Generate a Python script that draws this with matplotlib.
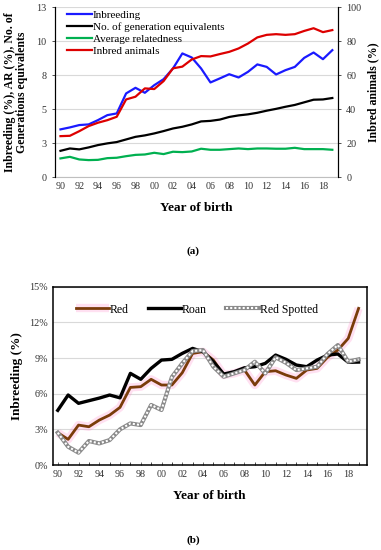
import matplotlib
matplotlib.use("Agg")
import matplotlib.pyplot as plt
from matplotlib.ticker import FixedLocator, MultipleLocator, PercentFormatter
from matplotlib.legend_handler import HandlerTuple

plt.rcParams['font.family'] = ['Liberation Serif', 'DejaVu Serif']

# данные
years = list(range(1990, 2020))
year_ticks = list(range(1990, 2019, 2))
year_labels = ["%02d" % (y % 100) for y in year_ticks]

# (a)
inbreeding = [3.65, 3.80, 3.98, 4.03, 4.36, 4.74, 4.87, 6.40, 6.83, 6.45,
              7.03, 7.49, 8.31, 9.46, 9.15, 8.31, 7.24, 7.55, 7.87, 7.62,
              8.05, 8.62, 8.43, 7.85, 8.18, 8.43, 9.12, 9.53, 9.02, 9.71]
gen_equiv = [2.01, 2.19, 2.12, 2.27, 2.45, 2.58, 2.68, 2.88, 3.08, 3.19,
             3.34, 3.52, 3.72, 3.85, 4.03, 4.26, 4.30, 4.40, 4.60, 4.72,
             4.80, 4.92, 5.08, 5.22, 5.38, 5.52, 5.72, 5.92, 5.94, 6.05]
relatedness = [1.43, 1.55, 1.35, 1.30, 1.32, 1.45, 1.48, 1.60, 1.70, 1.73,
               1.86, 1.76, 1.94, 1.91, 1.96, 2.17, 2.09, 2.09, 2.14, 2.19,
               2.14, 2.19, 2.19, 2.17, 2.17, 2.24, 2.14, 2.14, 2.14, 2.09]
inbred_animals = [24.1, 24.3, 27.0, 30.0, 32.0, 33.5, 35.5, 45.7, 47.3, 52.2,
                  51.8, 56.5, 64.0, 65.0, 69.2, 71.2, 71.0, 72.4, 73.7, 75.7,
                  78.6, 82.2, 83.7, 84.1, 83.7, 84.1, 86.0, 87.6, 85.3, 86.5]

# (b)
red = [2.72, 2.16, 3.36, 3.22, 3.78, 4.20, 4.85, 6.53, 6.59, 7.21,
       6.73, 6.73, 7.76, 9.39, 9.53, 8.83, 7.57, 7.71, 7.99, 6.73,
       7.85, 7.93, 7.57, 7.29, 7.99, 8.13, 9.06, 9.67, 10.65, 13.18]
roan = [4.60, 5.89, 5.19, 5.41, 5.63, 5.89, 5.65, 7.71, 7.21, 8.13,
        8.83, 8.89, 9.39, 9.81, 9.53, 8.69, 7.65, 7.85, 8.18, 8.27,
        8.55, 9.25, 8.89, 8.41, 8.27, 8.83, 9.25, 9.34, 8.64, 8.66]
red_spotted = [2.72, 1.54, 1.04, 2.02, 1.82, 2.10, 3.00, 3.50, 3.36, 5.05,
               4.63, 7.40, 8.55, 9.59, 9.67, 8.27, 7.43, 7.71, 7.99, 8.69,
               7.71, 9.06, 8.60, 7.99, 8.13, 8.27, 9.34, 10.09, 8.69, 8.89]

fig = plt.figure(figsize=(3.81, 5.50), dpi=100)

# ---------- (a) ----------
ax = fig.add_axes([0.144, 0.678, 0.743, 0.309])
ax2 = ax.twinx()
l1, = ax.plot(years, inbreeding, color='#1a1aff', lw=1.6)
l2, = ax.plot(years, gen_equiv, color='black', lw=1.6)
l3, = ax.plot(years, relatedness, color='#00b050', lw=1.6)
l4, = ax2.plot(years, inbred_animals, color='#dd0000', lw=1.6)

left_ticks = [0, 2.6, 5.2, 7.8, 10.4, 13]
ax.set_ylim(0, 13)
ax.yaxis.set_major_locator(FixedLocator(left_ticks))
ax.set_yticklabels(["%.0f" % t for t in left_ticks])
ax2.set_ylim(0, 100)
ax2.set_yticks([0, 20, 40, 60, 80, 100])
ax.set_xlim(1989.4, 2019.6)
ax.set_xticks(year_ticks)
ax.set_xticklabels(year_labels)
ax.grid(axis='y', color='#d9d9d9', lw=0.8)
ax.set_axisbelow(True)
for a in (ax, ax2):
    a.spines['top'].set_visible(False)
    a.tick_params(labelsize=7.3, length=2.5, width=0.6, colors='#333333')
ax.spines['bottom'].set_color('#bfbfbf')
ax.tick_params(axis='x', length=0)
ax2.spines['bottom'].set_visible(False)
ax.set_xlabel("Year of birth", fontsize=9.5, fontweight='bold', labelpad=8)
ax.set_ylabel("Inbreeding (%), AR (%), No. of\nGenerations equivalents",
              fontsize=8.5, fontweight='bold', labelpad=6, linespacing=1.0)
ax2.set_ylabel("Inbred animals (%)", fontsize=8.5, fontweight='bold', labelpad=4)
ax.legend([l1, l2, l3, l4],
          ["Inbreeding", "No. of generation equivalents",
           "Average relatedness", "Inbred animals"],
          loc='upper left', bbox_to_anchor=(0.02, 1.02), frameon=False,
          fontsize=8, handlelength=2.2, handletextpad=0.1, labelspacing=0.2,
          borderaxespad=0.2)
fig.text(0.507, 0.544, "(a)", ha='center', va='center', fontsize=8, fontweight='bold')

# ---------- (b) ----------
bx = fig.add_axes([0.138, 0.1545, 0.825, 0.3242])
glow, = bx.plot(years, red, color='#ff66bb', lw=6, alpha=0.2, solid_capstyle='butt')
r_line, = bx.plot(years, red, color='#7a3c0a', lw=2)
rn_line, = bx.plot(years, roan, color='black', lw=2.4)
sp_back, = bx.plot(years, red_spotted, color='#8a8a8a', lw=3.0)
sp_front, = bx.plot(years, red_spotted, color='white', lw=1.5, ls=(0, (1, 1)))

bx.set_ylim(0, 15)
bx.set_yticks([0, 3, 6, 9, 12, 15])
bx.yaxis.set_major_formatter(PercentFormatter(decimals=0))
bx.set_xlim(1989.5, 2019.8)
bx.set_xticks(year_ticks)
bx.set_xticklabels(year_labels)
bx.xaxis.set_minor_locator(MultipleLocator(1))
bx.grid(axis='y', color='#d9d9d9', lw=0.8)
bx.set_axisbelow(True)
for s in bx.spines.values():
    s.set_linewidth(1.1)
bx.tick_params(labelsize=7.3, colors='#333333')
bx.tick_params(axis='x', which='both', length=2.5, width=0.5, direction='in')
bx.tick_params(axis='y', length=0)
bx.set_xlabel("Year of birth", fontsize=9.5, fontweight='bold', labelpad=8)
bx.set_ylabel("Inbreeding (%)", fontsize=9.5, fontweight='bold', labelpad=4)
bx.legend([(glow, r_line), rn_line, (sp_back, sp_front)],
          ["Red", "Roan", "Red Spotted"],
          handler_map={tuple: HandlerTuple(ndivide=1)},
          loc='upper left', bbox_to_anchor=(0.04, 0.965), ncol=3, frameon=False,
          fontsize=8.5, handlelength=2.8, handletextpad=0.1, columnspacing=1.6)
fig.text(0.507, 0.018, "(b)", ha='center', va='center', fontsize=8, fontweight='bold')

fig.savefig("out.png", dpi=100)
